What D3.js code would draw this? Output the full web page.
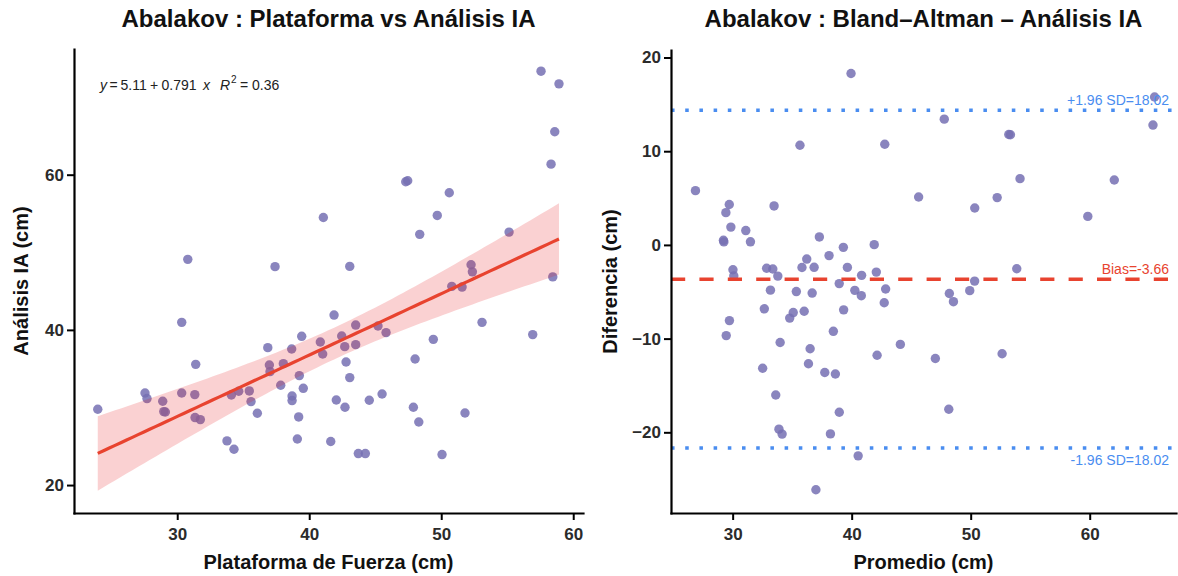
<!DOCTYPE html>
<html>
<head>
<meta charset="utf-8">
<script src="https://cdn.jsdelivr.net/npm/d3@7"></script>
<style>
  body { margin: 0; background: #fff; }
  svg { display: block; }
  text { font-family: "Liberation Sans", Arial, Helvetica, sans-serif; }
</style>
</head>
<body>
<svg id="chart" width="1178" height="576"></svg>
<script>
// Abalakov jump height (cm): force platform vs. AI video analysis, one entry per jump
const plataforma = [
  23.98, 27.56, 27.71, 28.90, 28.98, 29.10, 30.34, 30.34, 30.80, 31.33,
  31.35, 31.40, 31.75, 33.77, 34.10, 34.30, 34.66, 35.46, 35.59, 36.07,
  36.86, 36.98, 37.03, 37.41, 37.84, 38.04, 38.67, 38.70, 38.70, 39.10,
  39.20, 39.25, 39.43, 39.55, 40.84, 41.02, 41.07, 41.63, 41.88, 42.05,
  42.46, 42.69, 42.71, 42.79, 43.07, 43.07, 43.52, 43.52, 43.72, 44.25,
  44.55, 45.21, 45.52, 45.82, 47.31, 47.46, 47.89, 48.02, 48.30, 48.37,
  49.40, 49.70, 50.06, 50.61, 50.80, 51.58, 51.80, 52.26, 52.36, 53.09,
  55.14, 56.93, 57.56, 58.32, 58.45, 58.60, 58.92
];
const analisisIA = [
  29.77, 31.87, 31.15, 30.80, 29.47, 29.42, 40.97, 31.87, 49.09, 31.66,
  28.70, 35.56, 28.44, 25.69, 31.61, 24.62, 32.09, 32.13, 30.76, 29.25,
  37.71, 35.47, 34.62, 48.15, 32.86, 35.65, 37.53, 31.48, 30.89, 25.94,
  28.78, 34.11, 39.17, 32.47, 38.44, 36.89, 54.49, 25.61, 41.91, 30.97,
  39.21, 37.84, 30.03, 35.86, 48.18, 33.85, 40.62, 38.10, 24.06, 24.06,
  30.93, 40.50, 31.74, 39.65, 59.09, 59.22, 30.03, 36.25, 28.13, 52.31,
  38.78, 54.75, 23.93, 57.68, 45.61, 45.52, 29.29, 48.40, 47.48, 40.97,
  52.60, 39.39, 73.34, 61.36, 46.83, 65.53, 71.71
];

// Linear fit as reported in the equation label
const fitIntercept = 5.11;
const fitSlope = 0.791;
const fitR2 = 0.36;

// Bland–Altman summary: mean difference and 1.96·SD half-width
const bias = -3.66;
const loaHalfWidth = 18.02;

// Tick values
const xTicksLeft = [30, 40, 50, 60];
const yTicksLeft = [20, 40, 60];
const xTicksRight = [30, 40, 50, 60];
const yTicksRight = [-20, -10, 0, 10, 20];

// ---------------------------------------------------------------------------
const svg = d3.select("#chart");
const pointFill = "#7570B3";
const red = "#E8432F";
const blue = "#4A8DF0";
const tickColor = "#2b2b2b";

const left = { x0: 74, x1: 583, y0: 49, y1: 513 };
const right = { x0: 671, x1: 1176, y0: 50, y1: 513 };

const xL = d3.scaleLinear().domain([22.18, 60.74]).range([left.x0, left.x1]);
const yL = d3.scaleLinear().domain([16.4, 76.2]).range([left.y1, left.y0]);
const xR = d3.scaleLinear().domain([24.82, 67.25]).range([right.x0, right.x1]);
const yR = d3.scaleLinear().domain([-28.61, 20.80]).range([right.y1, right.y0]);

function styleAxis(g) {
  g.select(".domain").attr("stroke", "#000").attr("stroke-width", 2.2).attr("stroke-linecap", "square");
  g.selectAll(".tick line").attr("stroke", "#000").attr("stroke-width", 2);
  g.selectAll(".tick text")
    .attr("fill", tickColor)
    .attr("font-size", 17)
    .attr("font-weight", "bold")
    .attr("font-family", "'Liberation Sans', Arial, sans-serif");
}

function drawAxes(box, xs, ys, xt, yt) {
  const gx = svg.append("g").attr("transform", `translate(0,${box.y1})`)
    .call(d3.axisBottom(xs).tickValues(xt).tickFormat(d3.format("d")).tickSize(7).tickSizeOuter(0).tickPadding(8));
  styleAxis(gx);
  const gy = svg.append("g").attr("transform", `translate(${box.x0},0)`)
    .call(d3.axisLeft(ys).tickValues(yt).tickFormat(d3.format("d")).tickSize(7).tickSizeOuter(0).tickPadding(3));
  styleAxis(gy);
}

function title(text, cx) {
  svg.append("text").attr("x", cx).attr("y", 27).attr("text-anchor", "middle")
    .attr("font-size", 24).attr("font-weight", "bold").attr("fill", "#111").text(text);
}

function axisTitles(box, xText, yText, yx) {
  svg.append("text").attr("x", (box.x0 + box.x1) / 2).attr("y", 569).attr("text-anchor", "middle")
    .attr("font-size", 20).attr("font-weight", "bold").attr("fill", "#111").text(xText);
  svg.append("text").attr("transform", `translate(${yx},${(box.y0 + box.y1) / 2}) rotate(-90)`)
    .attr("text-anchor", "middle").attr("font-size", 20).attr("font-weight", "bold").attr("fill", "#111").text(yText);
}

// ---------------- Left panel: scatter with fitted line and 95% CI ----------
const pairs = plataforma.map((x, i) => ({ x, y: analisisIA[i] }));

const n = pairs.length;
const xbar = d3.mean(plataforma);
const sxx = d3.sum(plataforma, x => (x - xbar) ** 2);
const sse = d3.sum(pairs, p => (p.y - (fitIntercept + fitSlope * p.x)) ** 2);
const sRes = Math.sqrt(sse / (n - 2));
const tQuant = 1.992; // 97.5% Student t quantile, 75 degrees of freedom

const [xMin, xMax] = d3.extent(plataforma);
const grid = d3.range(0, 81).map(i => xMin + (xMax - xMin) * i / 80);
const band = grid.map(x => {
  const fit = fitIntercept + fitSlope * x;
  const se = sRes * Math.sqrt(1 / n + (x - xbar) ** 2 / sxx);
  return { x, fit, lo: fit - tQuant * se, hi: fit + tQuant * se };
});

const gLeft = svg.append("g");
gLeft.selectAll("circle").data(pairs).join("circle")
  .attr("cx", d => xL(d.x)).attr("cy", d => yL(d.y)).attr("r", 4.7)
  .attr("fill", pointFill).attr("fill-opacity", 0.85);

gLeft.append("path").datum(band)
  .attr("d", d3.area().x(d => xL(d.x)).y0(d => yL(d.lo)).y1(d => yL(d.hi)))
  .attr("fill", "#E41A1C").attr("fill-opacity", 0.2);

gLeft.append("path").datum(band)
  .attr("d", d3.line().x(d => xL(d.x)).y(d => yL(d.fit)))
  .attr("fill", "none").attr("stroke", red).attr("stroke-width", 3.2);

// Equation label
const eq = svg.append("text").attr("y", 90).attr("font-size", 14).attr("fill", "#222");
const eqParts = [
  { t: "y", x: 100, it: true },
  { t: "=", x: 109.5 },
  { t: fitIntercept.toFixed(2), x: 120.5 },
  { t: "+", x: 150 },
  { t: fitSlope.toFixed(3), x: 161.5 },
  { t: "x", x: 203, it: true },
  { t: "R", x: 220, it: true },
  { t: "2", x: 231, sup: true },
  { t: "=", x: 240 },
  { t: fitR2.toFixed(2), x: 252 }
];
eqParts.forEach(p => {
  eq.append("tspan").attr("x", p.x).attr("y", p.sup ? 83 : 90)
    .attr("font-style", p.it ? "italic" : "normal")
    .attr("font-size", p.sup ? 10 : 14).text(p.t);
});

drawAxes(left, xL, yL, xTicksLeft, yTicksLeft);
title("Abalakov : Plataforma vs Análisis IA", (left.x0 + left.x1) / 2);
axisTitles(left, "Plataforma de Fuerza (cm)", "Análisis IA (cm)", 28);

// ---------------- Right panel: Bland–Altman ------------------------------
const ba = pairs.map(p => ({ m: (p.x + p.y) / 2, d: p.y - p.x }));
const gRight = svg.append("g");
gRight.selectAll("circle").data(ba).join("circle")
  .attr("cx", d => xR(d.m)).attr("cy", d => yR(d.d)).attr("r", 4.7)
  .attr("fill", pointFill).attr("fill-opacity", 0.85);

const refLines = [
  { v: bias, color: red, dash: "14.2,14.2", label: `Bias=${bias.toFixed(2)}`, below: false },
  { v: bias + loaHalfWidth, color: blue, dash: "3.55,10.65", label: `+1.96 SD=${loaHalfWidth.toFixed(2)}`, below: false },
  { v: bias - loaHalfWidth, color: blue, dash: "3.55,10.65", label: `-1.96 SD=${loaHalfWidth.toFixed(2)}`, below: true }
];
refLines.forEach(r => {
  gRight.append("line")
    .attr("x1", right.x0).attr("x2", right.x1).attr("y1", yR(r.v)).attr("y2", yR(r.v))
    .attr("stroke", r.color).attr("stroke-width", 3.55).attr("stroke-dasharray", r.dash);
  gRight.append("text")
    .attr("x", 1169).attr("y", yR(r.v) + (r.below ? 16.5 : -5.5))
    .attr("text-anchor", "end").attr("font-size", 14).attr("fill", r.color).text(r.label);
});

drawAxes(right, xR, yR, xTicksRight, yTicksRight);
title("Abalakov : Bland–Altman – Análisis IA", (right.x0 + right.x1) / 2);
axisTitles(right, "Promedio (cm)", "Diferencia (cm)", 617);
</script>
</body>
</html>
